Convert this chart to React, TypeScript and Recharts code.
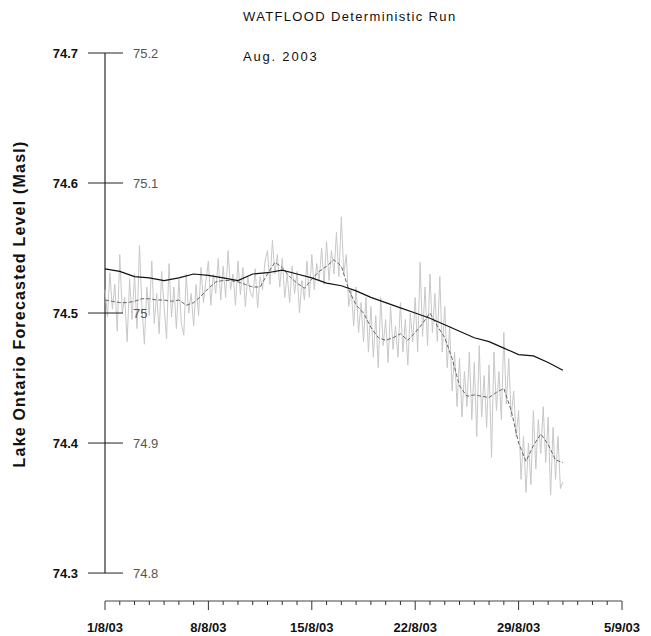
import { ComposedChart, Line, XAxis, YAxis, ReferenceLine } from "recharts";

// observed level, every 4 h, 1/8/03 -> 1/9/03
const observed = [
  74.518, 74.497, 74.531, 74.503, 74.522, 74.486,
  74.545, 74.500, 74.512, 74.478, 74.526, 74.495,
  74.530, 74.488, 74.552, 74.505, 74.476, 74.520,
  74.498, 74.540, 74.492, 74.515, 74.484, 74.532,
  74.505, 74.480, 74.538, 74.497, 74.520, 74.488,
  74.526, 74.492, 74.483, 74.530, 74.500, 74.515,
  74.490, 74.522, 74.498, 74.535, 74.508, 74.525,
  74.540, 74.506, 74.530, 74.515, 74.542, 74.510,
  74.536, 74.512, 74.548, 74.518, 74.530, 74.506,
  74.540, 74.514, 74.535, 74.505, 74.528, 74.516,
  74.512, 74.534, 74.504, 74.528, 74.518, 74.540,
  74.548, 74.522, 74.556, 74.530, 74.545, 74.520,
  74.542, 74.512, 74.530, 74.508, 74.536, 74.515,
  74.532, 74.500, 74.525, 74.510, 74.540, 74.512,
  74.545, 74.518, 74.538, 74.525, 74.550, 74.522,
  74.555, 74.525, 74.548, 74.530, 74.562, 74.528,
  74.574, 74.530, 74.545, 74.505, 74.518, 74.490,
  74.520, 74.485, 74.508, 74.478, 74.512, 74.470,
  74.505, 74.466, 74.498, 74.458, 74.512, 74.475,
  74.495, 74.462, 74.505, 74.472, 74.490, 74.466,
  74.508, 74.470, 74.495, 74.460, 74.500, 74.478,
  74.512, 74.470, 74.539, 74.482, 74.520, 74.475,
  74.530, 74.485, 74.515, 74.478, 74.528, 74.470,
  74.505, 74.458, 74.490, 74.440, 74.470, 74.428,
  74.465, 74.420, 74.455, 74.428, 74.470, 74.418,
  74.462, 74.405, 74.475, 74.420, 74.452, 74.412,
  74.460, 74.389, 74.470, 74.425, 74.455, 74.418,
  74.485, 74.430, 74.465, 74.420, 74.440, 74.405,
  74.425, 74.372, 74.405, 74.362, 74.400, 74.368,
  74.425, 74.380, 74.418, 74.392, 74.428, 74.385,
  74.420, 74.360, 74.412, 74.372, 74.405, 74.365,
  74.370,
];

// smoothed observed, every 12 h
const smoothed = [
  74.510, 74.509, 74.508, 74.508, 74.509, 74.511, 74.511, 74.510,
  74.510, 74.509, 74.510, 74.506, 74.508, 74.513, 74.519, 74.524,
  74.525, 74.525, 74.524, 74.522, 74.520, 74.520, 74.530, 74.539,
  74.535, 74.528, 74.523, 74.519, 74.526, 74.532, 74.536, 74.541,
  74.536, 74.518, 74.506, 74.500, 74.489, 74.481, 74.479, 74.481,
  74.484, 74.479, 74.485, 74.492, 74.500, 74.490, 74.481, 74.465,
  74.444, 74.436, 74.437, 74.436, 74.435, 74.439, 74.442, 74.425,
  74.400, 74.386, 74.398, 74.407, 74.399, 74.387, 74.385,
];

// deterministic forecast, daily
const forecast = [
  74.534, 74.532, 74.528, 74.527, 74.525, 74.527, 74.530, 74.529,
  74.527, 74.525, 74.530, 74.531, 74.533, 74.530, 74.527, 74.523,
  74.521, 74.517, 74.512, 74.508, 74.504, 74.500, 74.496, 74.491,
  74.486, 74.481, 74.478, 74.473, 74.468, 74.467, 74.462, 74.456,
];

const leftTicks = [74.3, 74.4, 74.5, 74.6, 74.7];
const dayTicks = Array.from({ length: 36 }, (_, i) => i);
const dateLabels = ["1/8/03", "8/8/03", "15/8/03", "22/8/03", "29/8/03", "5/9/03"];

const data = observed.map((v, i) => ({
  day: i / 6,
  observed: v,
  smoothed: i % 3 === 0 ? smoothed[i / 3] : undefined,
  forecast: i % 6 === 0 ? forecast[i / 6] : undefined,
}));

const font = '"Liberation Sans", Arial, sans-serif';

function LevelTick({ x, y, payload }: any) {
  const v = payload.value as number;
  return (
    <g>
      <line x1={x - 17} x2={x + 18} y1={y} y2={y} stroke="#222" />
      <text x={x - 27} y={y + 5} textAnchor="end" fontSize={13} fontWeight="bold" fill="#111" fontFamily={font}>
        {v.toFixed(1)}
      </text>
      <text x={x + 28} y={y + 5} textAnchor="start" fontSize={13} fill="#555" fontFamily={font}>
        {(v + 0.5).toFixed(1).replace(/\.0$/, "")}
      </text>
    </g>
  );
}

function DayTick({ x, y, payload }: any) {
  const d = payload.value as number;
  const major = d % 7 === 0;
  return (
    <g>
      <line x1={x} x2={x} y1={y} y2={y + (major ? 9 : 4)} stroke="#333" />
      {major && (
        <text x={x} y={y + 31} textAnchor="middle" fontSize={13} fontWeight="bold" fill="#111" fontFamily={font}>
          {dateLabels[d / 7]}
        </text>
      )}
    </g>
  );
}

export default function App() {
  return (
    <div style={{ position: "absolute", left: 0, top: 0, width: 651, height: 636, background: "#fff", fontFamily: font }}>
      <ComposedChart width={651} height={636} data={data} margin={{ top: 53, right: 29, bottom: 5, left: 5 }}>
        <XAxis
          dataKey="day"
          type="number"
          domain={[0, 35]}
          ticks={dayTicks}
          interval={0}
          tickSize={0}
          tickMargin={0}
          tickLine={false}
          height={30}
          axisLine={{ stroke: "#444" }}
          tick={<DayTick />}
        />
        <YAxis
          type="number"
          domain={[74.2785, 74.7]}
          ticks={leftTicks}
          interval={0}
          allowDataOverflow
          width={100}
          tickSize={0}
          tickMargin={0}
          tickLine={false}
          axisLine={false}
          tick={<LevelTick />}
        />
        <ReferenceLine segment={[{ x: 0, y: 74.3 }, { x: 0, y: 74.7 }]} stroke="#555" strokeWidth={1.5} />
        <Line dataKey="observed" stroke="#c8c8c8" strokeWidth={1} dot={false} isAnimationActive={false} />
        <Line dataKey="smoothed" stroke="#666" strokeWidth={1} strokeDasharray="4 2" dot={false} connectNulls isAnimationActive={false} />
        <Line dataKey="forecast" stroke="#111" strokeWidth={1.2} dot={false} connectNulls isAnimationActive={false} />
      </ComposedChart>
      <div style={{ position: "absolute", left: 243, top: 9, fontSize: 13, letterSpacing: 1.35, color: "#111", whiteSpace: "nowrap" }}>
        WATFLOOD Deterministic Run
      </div>
      <div style={{ position: "absolute", left: 243, top: 49, fontSize: 13, letterSpacing: 1.8, color: "#111", whiteSpace: "nowrap" }}>
        Aug. 2003
      </div>
      <div
        style={{
          position: "absolute",
          left: 20 - 225,
          top: 304 - 10,
          width: 450,
          height: 20,
          lineHeight: "20px",
          textAlign: "center",
          fontSize: 16,
          letterSpacing: 1.2,
          fontWeight: "bold",
          color: "#111",
          transform: "rotate(-90deg)",
          whiteSpace: "nowrap",
        }}
      >
        Lake Ontario Forecasted Level (Masl)
      </div>
    </div>
  );
}
